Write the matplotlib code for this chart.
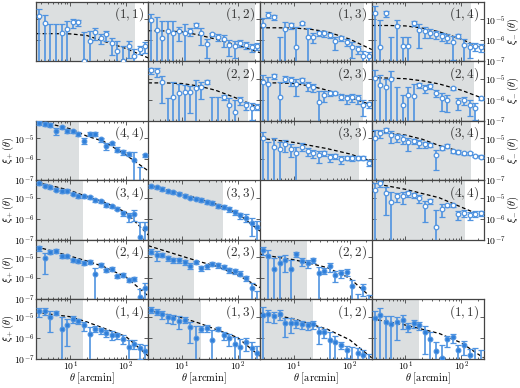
import numpy as np
import matplotlib
matplotlib.use("Agg")
import matplotlib.pyplot as plt
from matplotlib.ticker import FixedLocator, FuncFormatter, NullLocator, LogLocator

nan = np.nan

# bin centres [arcmin]
theta = [2.81, 3.53, 4.45, 5.60, 7.05, 8.87, 11.17, 14.06, 17.70, 22.28,
         28.05, 35.31, 44.45, 55.96, 70.45, 88.69, 111.65, 140.56, 176.95, 222.77]
# nodes where the model curve was read
fit_theta = [2.5, 5, 10, 20, 40, 100, 250]

# values are log10 of the marker and log10 of the upper error cap, nan = marker below the axis
# ---- xi_minus ----
xm_11 = [-4.83, -5.17, nan, nan, -5.65, -5.46, -5.14, -5.14, -6.98, -6.04, -5.61, -5.88, -5.72, -6.12, -6.51, -6.98, -6.28, -6.75, -6.43, -6.28]
xm_11_hi = [-4.5, -4.78, -5.25, -5.25, -5.25, -5.09, -4.97, -5.02, -5.6, -5.57, -5.41, -5.7, -5.54, -5.88, -6.04, -6.28, -6.04, -6.43, -6.28, -6.09]
fit_xm_11 = [-5.69, -5.69, -5.7, -5.78, -6.05, -6.4, -6.85]

xm_12 = [-5.05, -5.5, -5.91, -5.57, -5.65, -5.57, -5.65, -5.57, -5.3, -5.65, -6.2, -5.72, -5.83, -5.96, -6.23, -6.28, -6.12, -6.23, -6.35, -6.28]
xm_12_hi = [-4.73, -4.9, -5.09, -5.09, -5.09, -5.35, -5.25, -5.41, -5.2, -5.41, -5.95, -5.65, -5.69, -5.77, -6.0, -6.04, -5.99, -6.1, -6.2, -6.15]
fit_xm_12 = [-5.55, -5.56, -5.6, -5.75, -5.95, -6.25, -6.6]

xm_13 = [-5.3, -4.78, -4.89, nan, -5.49, -5.3, -6.32, -5.2, -5.83, -5.83, -5.65, -5.68, -5.76, -6.04, -5.91, -6.07, -6.32, -6.43, -6.75, -6.75]
xm_13_hi = [-4.94, -4.67, -4.78, -5.83, -5.15, -5.17, -5.36, -5.14, -5.41, -5.65, -5.54, -5.57, -5.65, -5.83, -5.8, -5.93, -6.09, -6.28, -6.51, -6.59]
fit_xm_13 = [-5.41, -5.41, -5.42, -5.48, -5.6, -5.95, -6.45]

xm_14 = [-4.7, -6.35, -4.72, nan, -5.33, -6.28, -6.28, -5.2, -5.52, -5.57, -5.65, -5.72, -5.8, -5.88, -6.07, -5.8, -6.23, -6.35, -6.28, -6.35]
xm_14_hi = [-4.38, -5.02, -4.6, -5.83, -5.02, -5.83, -5.83, -5.09, -5.25, -5.38, -5.49, -5.57, -5.65, -5.72, -5.8, -5.72, -5.96, -6.12, -6.12, -6.2]
fit_xm_14 = [-5.3, -5.3, -5.32, -5.42, -5.6, -5.95, -6.43]

xm_22 = [-4.6, -4.65, -5.15, nan, -5.86, -5.7, -5.65, -5.62, -5.46, -5.39, -5.15, nan, nan, -5.89, -6.25, -6.57, -6.02, -6.25, -6.41, -6.33]
xm_22_hi = [-4.47, -4.49, -4.87, -5.94, -5.15, -5.23, -5.28, -5.34, -5.07, -5.15, -5.07, -5.89, -5.89, -5.78, -5.94, -6.02, -5.87, -6.09, -6.17, -6.22]
fit_xm_22 = [-5.2, -5.2, -5.23, -5.35, -5.55, -5.95, -6.4]

xm_23 = [-5.15, -5.23, -4.87, -5.86, -4.99, -5.07, -5.23, -5.07, -5.31, -5.39, -6.1, -5.78, -5.7, -5.7, -5.86, -5.94, -5.89, -5.94, -6.25, -6.22]
xm_23_hi = [-4.83, -4.9, -4.76, -5.15, -4.87, -4.91, -4.99, -4.96, -5.15, -5.23, -5.59, -5.59, -5.59, -5.62, -5.75, -5.78, -5.75, -5.78, -6.02, -6.09]
fit_xm_23 = [-5.2, -5.2, -5.23, -5.35, -5.55, -5.9, -6.25]

xm_24 = [-4.95, -5.28, -5.39, -4.99, nan, -6.25, -5.78, -5.81, -5.31, -5.46, -5.34, -5.67, -5.94, -6.02, -5.46, -6.13, -6.02, -6.25, -6.41, -5.94]
xm_24_hi = [-4.6, -4.83, -4.99, -4.65, -5.39, -5.78, -5.39, -5.23, -5.2, -5.31, -5.23, -5.54, -5.7, -5.78, -5.39, -5.94, -5.86, -6.02, -6.17, -5.89]
fit_xm_24 = [-4.95, -4.97, -5.0, -5.1, -5.25, -5.55, -5.95]

xm_33 = [-5.0, nan, -5.4, -5.5, -5.3, -5.5, -5.7, -5.4, -5.6, -5.7, -5.8, -5.7, -5.9, -5.85, -6.0, -5.93, -5.96, -5.93, -5.93, -6.17]
xm_33_hi = [-4.7, -5.2, -5.0, -5.2, -5.1, -5.3, -5.4, -5.25, -5.45, -5.55, -5.6, -5.6, -5.75, -5.75, -5.85, -5.83, -5.85, -5.83, -5.83, -6.05]
fit_xm_33 = [-5.0, -5.1, -5.2, -5.35, -5.5, -5.75, -6.1]

xm_34 = [-4.98, -4.75, -4.62, -4.87, -4.94, -5.03, -5.19, -5.14, -5.25, -5.3, -5.33, -5.8, -5.46, -5.38, -5.61, -5.65, -5.72, -5.72, -5.85, -5.88]
xm_34_hi = [-4.59, -4.59, -4.51, -4.67, -4.78, -4.87, -4.98, -5.03, -5.1, -5.19, -5.25, -5.54, -5.38, -5.3, -5.54, -5.57, -5.66, -5.65, -5.79, -5.82]
fit_xm_34 = [-4.67, -4.75, -4.85, -5.05, -5.35, -5.65, -5.95]

xm_44 = [-4.62, -4.31, -4.78, -5.21, -4.94, -4.94, -4.78, -4.89, -5.0, -5.41, -5.16, -6.42, -5.52, -5.37, -5.37, -5.79, -5.73, -5.84, -5.76, -5.73]
xm_44_hi = [-4.3, -4.19, -4.5, -4.74, -4.78, -4.74, -4.66, -4.78, -4.85, -5.15, -5.05, -5.6, -5.32, -5.29, -5.29, -5.63, -5.6, -5.7, -5.63, -5.63]
fit_xm_44 = [-4.3, -4.45, -4.6, -4.8, -5.0, -5.45, -5.9]

# ---- xi_plus ----
xp_44 = [-4.28, -4.31, -4.35, -4.64, -4.48, -4.64, -4.67, -4.8, -5.11, -4.8, -4.8, -5.06, -5.38, -5.25, -5.54, -5.65, -5.74, -6.04, nan, -5.82]
xp_44_hi = [-4.2, -4.23, -4.27, -4.5, -4.4, -4.56, -4.59, -4.72, -4.98, -4.72, -4.72, -4.98, -5.25, -5.17, -5.44, -5.55, -5.64, -5.68, -6.37, -5.74]
fit_xp_44 = [-4.2, -4.35, -4.55, -4.9, -5.15, -5.8, -6.56]

xp_34 = [-4.31, -4.42, -4.5, -4.61, -4.69, -4.66, -4.82, -4.94, -4.94, -4.97, -5.13, -5.18, -5.34, -5.4, -5.52, -5.73, -5.89, -5.79, -6.9, -6.44]
xp_34_hi = [-4.25, -4.36, -4.44, -4.55, -4.63, -4.6, -4.76, -4.88, -4.88, -4.91, -5.07, -5.12, -5.27, -5.33, -5.45, -5.63, -5.73, -5.6, -6.16, -6.16]
fit_xp_34 = [-4.27, -4.45, -4.65, -4.95, -5.2, -5.7, -6.78]

xp_33 = [-4.45, -4.5, -4.58, -4.7, -4.75, -4.8, -4.9, -5.0, -5.05, -5.1, -5.2, -5.25, -5.38, -5.45, -5.55, -5.7, -5.85, -5.95, -6.2, -6.4]
xp_33_hi = [-4.38, -4.43, -4.51, -4.63, -4.68, -4.73, -4.83, -4.93, -4.98, -5.03, -5.13, -5.18, -5.3, -5.37, -5.46, -5.6, -5.72, -5.8, -5.95, -6.1]
fit_xp_33 = [-4.4, -4.6, -4.8, -5.05, -5.3, -5.75, -6.6]

xp_24 = [-4.57, -5.04, -4.73, -4.7, -4.96, -4.96, -5.15, -5.2, -5.28, -5.23, -5.8, -5.36, -5.63, -5.56, -5.91, -5.83, -6.07, -6.03, -6.89, -6.49]
xp_24_hi = [-4.46, -4.78, -4.65, -4.62, -4.88, -4.88, -5.07, -5.12, -5.2, -5.15, -5.5, -5.28, -5.55, -5.48, -5.83, -5.75, -5.98, -5.95, -6.54, -6.22]
fit_xp_24 = [-4.5, -4.72, -4.95, -5.18, -5.45, -5.95, -6.85]

xp_23 = [-4.73, -4.88, -4.88, -5.04, -5.15, -5.15, -5.25, -5.4, -5.25, -5.52, -5.44, -5.31, -5.39, -5.47, -5.63, -5.67, -5.78, -5.99, -6.49, nan]
xp_23_hi = [-4.63, -4.7, -4.78, -4.94, -5.05, -5.05, -5.15, -5.28, -5.17, -5.42, -5.35, -5.23, -5.3, -5.38, -5.54, -5.58, -5.68, -5.88, -6.22, -6.62]
fit_xp_23 = [-4.45, -4.7, -4.95, -5.2, -5.42, -5.85, -6.45]

xp_22 = [-4.65, -4.96, -5.56, -5.28, -5.12, -5.56, -4.84, -5.2, -5.28, -5.15, -5.75, -5.64, -5.44, -5.86, -5.75, -5.7, -6.39, nan, -6.49, nan]
xp_22_hi = [-4.49, -4.65, -5.02, -4.96, -4.88, -5.12, -4.73, -5.05, -5.12, -5.05, -5.46, -5.52, -5.28, -5.67, -5.6, -5.56, -6.07, -6.77, -6.3, -6.8]
fit_xp_22 = [-4.85, -5.0, -5.12, -5.3, -5.5, -6.0, -6.95]

xp_14 = [-4.75, -4.73, -5.0, -4.81, -5.57, -5.38, -5.1, -5.21, -5.41, -5.81, -5.57, -5.65, -5.78, -5.86, -5.89, -6.05, -6.44, -6.29, -6.52, -6.65]
xp_14_hi = [-4.59, -4.59, -4.74, -4.73, -5.02, -5.1, -4.97, -5.1, -5.25, -5.5, -5.46, -5.52, -5.65, -5.7, -5.76, -5.89, -6.12, -6.13, -6.29, -6.33]
fit_xp_14 = [-4.8, -4.9, -5.0, -5.25, -5.55, -5.95, -6.88]

xp_13 = [-4.67, -4.76, -4.87, -5.03, -5.08, -5.19, -5.14, -5.5, -6.02, -5.58, -5.55, -6.13, -5.58, -5.87, -6.02, -6.29, -6.45, -6.21, -6.52, -6.76]
xp_13_hi = [-4.56, -4.64, -4.72, -4.87, -4.92, -4.98, -5.03, -5.24, -5.46, -5.46, -5.42, -5.66, -5.49, -5.71, -5.82, -5.98, -6.06, -6.0, -6.2, -6.4]
fit_xp_13 = [-4.7, -4.87, -5.05, -5.3, -5.6, -6.0, -6.9]

xp_12 = [-4.91, -4.87, -4.95, -4.87, -5.3, -5.3, -5.3, -5.35, -5.39, -5.35, -5.74, -5.74, -6.13, -6.21, -6.34, -6.6, nan, -6.75, -6.84, nan]
xp_12_hi = [-4.55, -4.67, -4.76, -4.7, -5.05, -5.08, -5.14, -5.2, -5.24, -5.2, -5.5, -5.58, -5.74, -5.9, -6.2, -6.4, -6.45, -6.5, -6.6, -6.8]
fit_xp_12 = [-4.83, -4.95, -5.1, -5.35, -5.6, -6.1, -6.97]

xp_11 = [-5.08, -4.91, -5.27, -5.36, -5.27, -5.14, -5.47, -5.3, -5.39, -5.74, -6.06, -6.65, -6.98, -6.09, -5.98, -6.61, -6.37, -6.84, nan, nan]
xp_11_hi = [-4.72, -4.6, -4.95, -4.95, -5.0, -4.92, -5.3, -5.14, -5.24, -5.46, -5.74, -6.21, -6.37, -5.9, -5.82, -6.34, -6.15, -6.53, -6.5, -6.6]
fit_xp_11 = [-5.1, -5.25, -5.4, -5.6, -5.8, -6.25, -6.97]

# (row, col, pair, is_plus, values, caps, model, scale cut)
panels = [
    (0, 0, "1,1", False, xm_11, xm_11_hi, fit_xm_11, 147),
    (0, 1, "1,2", False, xm_12, xm_12_hi, fit_xm_12, 206),
    (0, 2, "1,3", False, xm_13, xm_13_hi, fit_xm_13, 185),
    (0, 3, "1,4", False, xm_14, xm_14_hi, fit_xm_14, 149),
    (1, 1, "2,2", False, xm_22, xm_22_hi, fit_xm_22, 150),
    (1, 2, "2,3", False, xm_23, xm_23_hi, fit_xm_23, 175),
    (1, 3, "2,4", False, xm_24, xm_24_hi, fit_xm_24, 167),
    (2, 2, "3,3", False, xm_33, xm_33_hi, fit_xm_33, 146),
    (2, 3, "3,4", False, xm_34, xm_34_hi, fit_xm_34, 146),
    (3, 3, "4,4", False, xm_44, xm_44_hi, fit_xm_44, 115),
    (2, 0, "4,4", True, xp_44, xp_44_hi, fit_xp_44, 14.2),
    (3, 0, "3,4", True, xp_34, xp_34_hi, fit_xp_34, 16.9),
    (3, 1, "3,3", True, xp_33, xp_33_hi, fit_xp_33, 54),
    (4, 0, "2,4", True, xp_24, xp_24_hi, fit_xp_24, 17.6),
    (4, 1, "2,3", True, xp_23, xp_23_hi, fit_xp_23, 16.8),
    (4, 2, "2,2", True, xp_22, xp_22_hi, fit_xp_22, 17.5),
    (5, 0, "1,4", True, xp_14, xp_14_hi, fit_xp_14, 16.9),
    (5, 1, "1,3", True, xp_13, xp_13_hi, fit_xp_13, 22),
    (5, 2, "1,2", True, xp_12, xp_12_hi, fit_xp_12, 22.5),
    (5, 3, "1,1", True, xp_11, xp_11_hi, fit_xp_11, 17.4),
]

plt.rcParams["mathtext.fontset"] = "cm"
blue = "#2f7fd9"
ebar = "#4f93e0"
grey = "#dcdfe0"
frame = "#444444"

fig = plt.figure(figsize=(5.2, 3.88), dpi=100)
gs = fig.add_gridspec(6, 4, left=0.07, right=0.93, top=0.996, bottom=0.076,
                      hspace=0, wspace=0)

powfmt = FuncFormatter(lambda v, p: r"$10^{%d}$" % round(np.log10(v)))

for row, col, pair, plus, vals, caps, fit, cut in panels:
    ax = fig.add_subplot(gs[row, col])
    ax.set_xscale("log")
    ax.set_yscale("log")
    ax.set_xlim(2.5, 250)
    ax.set_ylim(1e-7, 7e-5)

    y = 10 ** np.array(vals)
    hidden = np.isnan(y)
    y = np.where(hidden, 1e-12, y)
    hi = 10 ** np.array(caps)
    lo = y - (hi - y)
    lo = np.where(lo <= 0, 1e-12, lo)
    lo = np.where(hidden, 1e-12, lo)

    ax.axvspan(2.5, cut, color=grey, lw=0, zorder=0)
    ax.plot(fit_theta, 10 ** np.array(fit), ls=(0, (3, 2)), color="k", lw=0.9, zorder=2)
    ax.errorbar(theta, y, yerr=[y - lo, hi - y], fmt="o", ms=3.3,
                mfc=blue if plus else "white", mec=ebar, mew=0.9,
                ecolor=ebar, elinewidth=1.2, capsize=2.4, capthick=1.0, zorder=3)

    ax.text(0.96, 0.93, r"$(%s)$" % pair, transform=ax.transAxes,
            ha="right", va="top", fontsize=9.5, color="#333333")

    for s in ax.spines.values():
        s.set_color(frame)
        s.set_linewidth(0.9)
    ax.xaxis.set_major_locator(FixedLocator([10, 100]))
    ax.xaxis.set_minor_locator(LogLocator(subs=np.arange(2, 10)))
    ax.yaxis.set_major_locator(FixedLocator([1e-7, 1e-6, 1e-5]))
    ax.yaxis.set_minor_locator(NullLocator())
    ax.xaxis.set_major_formatter(powfmt)
    ax.yaxis.set_major_formatter(powfmt)
    ax.tick_params(which="both", direction="in", top=True, right=True,
                   labelsize=7, color=frame, width=0.6, pad=1.2,
                   labelleft=False, labelbottom=False)
    ax.tick_params(axis="x", pad=1.0)
    ax.tick_params(which="major", length=3)
    ax.tick_params(which="minor", length=1.6)

    if plus and col == 0:
        ax.tick_params(labelleft=True)
        ax.set_ylabel(r"$\xi_+(\theta)$", fontsize=7.5, va="center")
        ax.yaxis.set_label_coords(-0.255, 0.5)
    if not plus and col == 3:
        ax.tick_params(labelright=True)
        ax.yaxis.set_label_position("right")
        ax.set_ylabel(r"$\xi_-(\theta)$", fontsize=7.5, rotation=90, va="center")
        ax.yaxis.set_label_coords(1.265, 0.5)
    if row == 5:
        ax.tick_params(labelbottom=True)
        ax.set_xlabel(r"$\theta\ [\mathrm{arcmin}]$", fontsize=7.5, va="center")
        ax.xaxis.set_label_coords(0.5, -0.34)

fig.savefig("out.png", dpi=100)
